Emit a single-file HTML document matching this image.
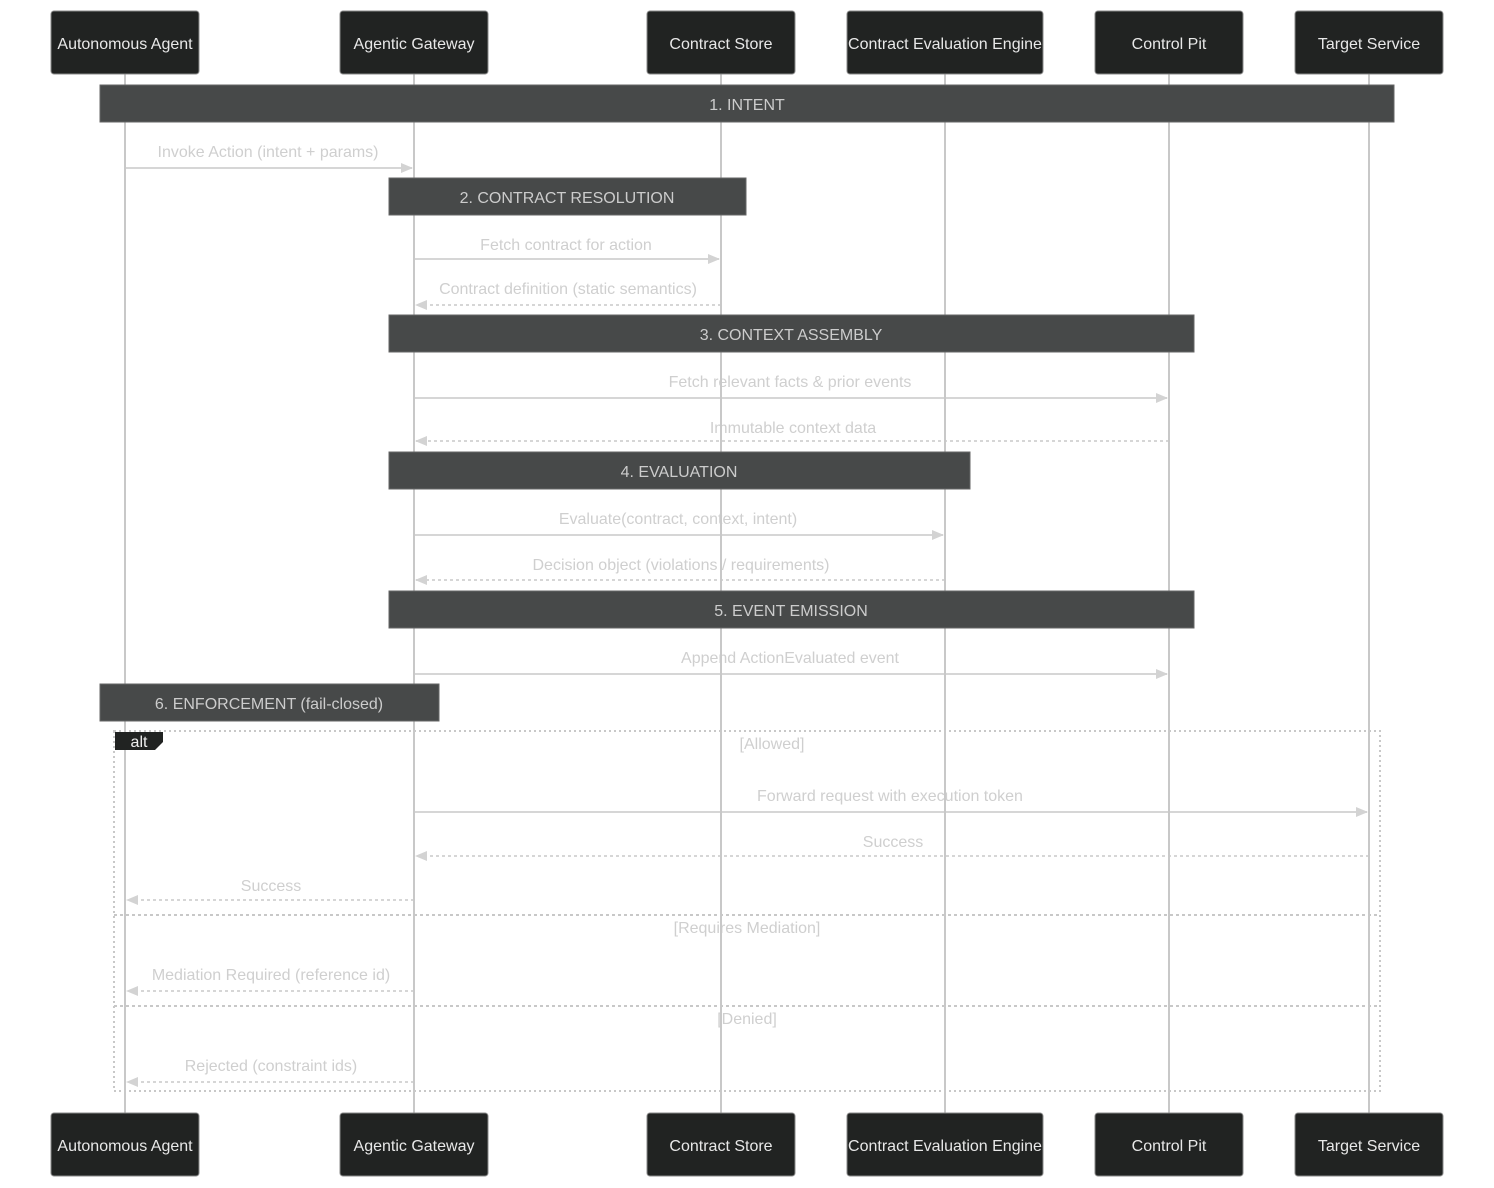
<!DOCTYPE html>
<html><head><meta charset="utf-8"><style>
html,body{margin:0;padding:0;background:#fff;}
svg{display:block;font-family:"Liberation Sans",Arial,sans-serif;}
.msg{font-size:16px;fill:#cfcfcf;text-anchor:middle;}
.act{font-size:16px;fill:#e8e8e8;text-anchor:middle;}
.note{font-size:16px;fill:#cccccc;text-anchor:middle;}
.ml{stroke:#d6d6d6;stroke-width:2;fill:none;}
.md{stroke:#d6d6d6;stroke-width:2;fill:none;stroke-dasharray:3,3;}
.ll{stroke:#c8c8c8;stroke-width:2;}
.nb{fill:#474949;stroke:#666;stroke-width:1;}
.ab{fill:#212322;stroke:#888;stroke-width:1;}
</style></head><body>
<svg width="1494" height="1188" viewBox="0 0 1494 1188" xmlns="http://www.w3.org/2000/svg">
<defs>
<marker id="ar" viewBox="0 0 12 10" refX="11" refY="5" markerWidth="12" markerHeight="10" markerUnits="userSpaceOnUse" orient="auto"><path d="M0,0 L12,5 L0,10 z" fill="#d3d3d3"/></marker>
</defs>
<rect x="114" y="731" width="1266" height="360" fill="none" stroke="#c8c8c8" stroke-width="2" stroke-dasharray="2,3"/>
<line x1="114" y1="915" x2="1380" y2="915" stroke="#c8c8c8" stroke-width="2" stroke-dasharray="3,3"/>
<line x1="114" y1="1006" x2="1380" y2="1006" stroke="#c8c8c8" stroke-width="2" stroke-dasharray="3,3"/>
<text class="msg" x="772" y="749">[Allowed]</text>
<text class="msg" x="747" y="933">[Requires Mediation]</text>
<text class="msg" x="747" y="1024">[Denied]</text>
<text class="msg" x="268" y="157">Invoke Action (intent + params)</text>
<line class="ml" x1="125" y1="168" x2="412" y2="168" marker-end="url(#ar)"/>
<text class="msg" x="566" y="250">Fetch contract for action</text>
<line class="ml" x1="414" y1="259" x2="719" y2="259" marker-end="url(#ar)"/>
<text class="msg" x="568" y="294">Contract definition (static semantics)</text>
<line class="md" x1="721" y1="305" x2="416" y2="305" marker-end="url(#ar)"/>
<text class="msg" x="790" y="387">Fetch relevant facts &amp; prior events</text>
<line class="ml" x1="414" y1="398" x2="1167" y2="398" marker-end="url(#ar)"/>
<text class="msg" x="793" y="433">Immutable context data</text>
<line class="md" x1="1169" y1="441" x2="416" y2="441" marker-end="url(#ar)"/>
<text class="msg" x="678" y="524">Evaluate(contract, context, intent)</text>
<line class="ml" x1="414" y1="535" x2="943" y2="535" marker-end="url(#ar)"/>
<text class="msg" x="681" y="570">Decision object (violations / requirements)</text>
<line class="md" x1="945" y1="580" x2="416" y2="580" marker-end="url(#ar)"/>
<text class="msg" x="790" y="663">Append ActionEvaluated event</text>
<line class="ml" x1="414" y1="674" x2="1167" y2="674" marker-end="url(#ar)"/>
<text class="msg" x="890" y="801">Forward request with execution token</text>
<line class="ml" x1="414" y1="812" x2="1367" y2="812" marker-end="url(#ar)"/>
<text class="msg" x="893" y="847">Success</text>
<line class="md" x1="1369" y1="856" x2="416" y2="856" marker-end="url(#ar)"/>
<text class="msg" x="271" y="891">Success</text>
<line class="md" x1="414" y1="900" x2="127" y2="900" marker-end="url(#ar)"/>
<text class="msg" x="271" y="980">Mediation Required (reference id)</text>
<line class="md" x1="414" y1="991" x2="127" y2="991" marker-end="url(#ar)"/>
<text class="msg" x="271" y="1071">Rejected (constraint ids)</text>
<line class="md" x1="414" y1="1082" x2="127" y2="1082" marker-end="url(#ar)"/>
<line class="ll" x1="125" y1="74" x2="125" y2="1113"/>
<line class="ll" x1="414" y1="74" x2="414" y2="1113"/>
<line class="ll" x1="721" y1="74" x2="721" y2="1113"/>
<line class="ll" x1="945" y1="74" x2="945" y2="1113"/>
<line class="ll" x1="1169" y1="74" x2="1169" y2="1113"/>
<line class="ll" x1="1369" y1="74" x2="1369" y2="1113"/>
<path d="M115,732 H163 V742 L155,750 H115 Z" fill="#212322"/>
<text x="139" y="747" font-size="16" fill="#eee" text-anchor="middle">alt</text>
<rect class="nb" x="100" y="85" width="1294" height="37"/><text class="note" x="747" y="110">1. INTENT</text>
<rect class="nb" x="389" y="178" width="357" height="37"/><text class="note" x="567" y="203">2. CONTRACT RESOLUTION</text>
<rect class="nb" x="389" y="315" width="805" height="37"/><text class="note" x="791" y="340">3. CONTEXT ASSEMBLY</text>
<rect class="nb" x="389" y="452" width="581" height="37"/><text class="note" x="679" y="477">4. EVALUATION</text>
<rect class="nb" x="389" y="591" width="805" height="37"/><text class="note" x="791" y="616">5. EVENT EMISSION</text>
<rect class="nb" x="100" y="684" width="339" height="37"/><text class="note" x="269" y="709">6. ENFORCEMENT (fail-closed)</text>
<g>
<rect class="ab" x="51" y="11" width="148" height="63" rx="3"/><text class="act" x="125" y="49">Autonomous Agent</text>
<rect class="ab" x="340" y="11" width="148" height="63" rx="3"/><text class="act" x="414" y="49">Agentic Gateway</text>
<rect class="ab" x="647" y="11" width="148" height="63" rx="3"/><text class="act" x="721" y="49">Contract Store</text>
<rect class="ab" x="847" y="11" width="196" height="63" rx="3"/><text class="act" x="945" y="49">Contract Evaluation Engine</text>
<rect class="ab" x="1095" y="11" width="148" height="63" rx="3"/><text class="act" x="1169" y="49">Control Pit</text>
<rect class="ab" x="1295" y="11" width="148" height="63" rx="3"/><text class="act" x="1369" y="49">Target Service</text>
</g>
<g transform="translate(0,1102)">
<rect class="ab" x="51" y="11" width="148" height="63" rx="3"/><text class="act" x="125" y="49">Autonomous Agent</text>
<rect class="ab" x="340" y="11" width="148" height="63" rx="3"/><text class="act" x="414" y="49">Agentic Gateway</text>
<rect class="ab" x="647" y="11" width="148" height="63" rx="3"/><text class="act" x="721" y="49">Contract Store</text>
<rect class="ab" x="847" y="11" width="196" height="63" rx="3"/><text class="act" x="945" y="49">Contract Evaluation Engine</text>
<rect class="ab" x="1095" y="11" width="148" height="63" rx="3"/><text class="act" x="1169" y="49">Control Pit</text>
<rect class="ab" x="1295" y="11" width="148" height="63" rx="3"/><text class="act" x="1369" y="49">Target Service</text>
</g>
</svg>
</body></html>
